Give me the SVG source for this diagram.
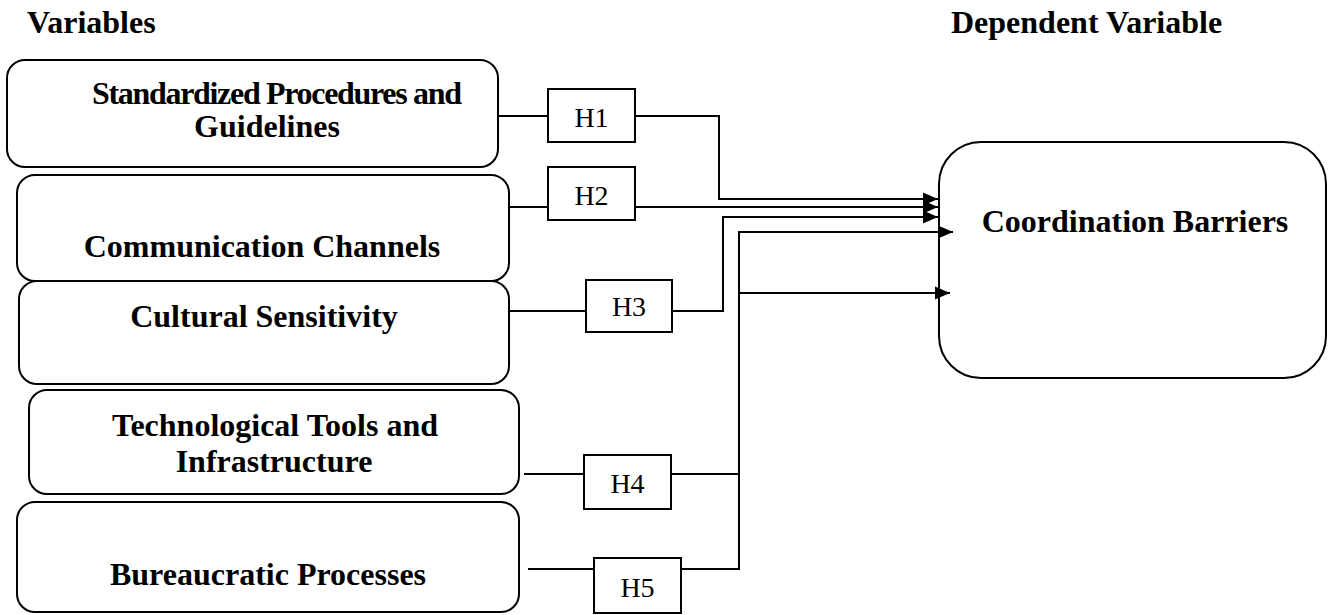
<svg xmlns="http://www.w3.org/2000/svg" width="1328" height="615" viewBox="0 0 1328 615">
<style>
.node{fill:#fff;stroke:#000;stroke-width:2}
.lbl{font-family:"Liberation Serif","Times New Roman",serif;font-weight:bold;font-size:32px;fill:#000;text-anchor:middle}
.hd{font-family:"Liberation Serif","Times New Roman",serif;font-weight:bold;font-size:32px;fill:#000}
.h{font-family:"Liberation Serif","Times New Roman",serif;font-size:28px;fill:#000;text-anchor:middle}
.hb{fill:#fff;stroke:#000;stroke-width:2}
.c{fill:none;stroke:#000;stroke-width:2}
</style>
<defs>
<marker id="arr" markerUnits="userSpaceOnUse" markerWidth="16" markerHeight="14" refX="15" refY="7" orient="auto">
<path d="M0,0.5 L15,7 L0,13.5 z" fill="#000"/>
</marker>
</defs>
<rect width="1328" height="615" fill="#fff"/>
<text class="hd" x="27" y="33">Variables</text>
<text class="hd" x="951" y="33">Dependent Variable</text>

<g id="n1">
<rect class="node" x="7" y="60" width="491" height="107" rx="18"/>
<text class="lbl" x="92" y="104" text-anchor="start" style="text-anchor:start" textLength="370" lengthAdjust="spacing">Standardized Procedures and</text>
<text class="lbl" x="267" y="137">Guidelines</text>
</g>
<g id="n2">
<rect class="node" x="17" y="175" width="492" height="106" rx="18"/>
<text class="lbl" x="262" y="257">Communication Channels</text>
</g>
<g id="n3">
<rect class="node" x="19" y="281" width="490" height="103" rx="18"/>
<text class="lbl" x="264" y="327">Cultural Sensitivity</text>
</g>
<g id="n4">
<rect class="node" x="29" y="390" width="490" height="104" rx="18"/>
<text class="lbl" x="275" y="436">Technological Tools and</text>
<text class="lbl" x="274" y="472">Infrastructure</text>
</g>
<g id="n5">
<rect class="node" x="17" y="502" width="502" height="110" rx="18"/>
<text class="lbl" x="268" y="585">Bureaucratic Processes</text>
</g>
<g id="target">
<rect class="node" x="939" y="142" width="387" height="236" rx="42"/>
<text class="lbl" x="1135" y="232">Coordination Barriers</text>
</g>

<g id="connectors">
<path class="c" d="M498,116 H548"/>
<path class="c" d="M509,207 H548"/>
<path class="c" d="M509,311 H586"/>
<path class="c" d="M524,474 H584"/>
<path class="c" d="M528,569 H594"/>
<path class="c" d="M635,116 H719 V199 H938" marker-end="url(#arr)"/>
<path class="c" d="M635,207 H938" marker-end="url(#arr)"/>
<path class="c" d="M672,311 H723 V217 H938" marker-end="url(#arr)"/>
<path class="c" d="M681,569 H739 V232 H953" marker-end="url(#arr)"/>
<path class="c" d="M671,474 H739"/>
<path class="c" d="M739,293 H950" marker-end="url(#arr)"/>
</g>

<g id="h1"><rect class="hb" x="548" y="89" width="87" height="53"/><text class="h" x="591.5" y="127">H1</text></g>
<g id="h2"><rect class="hb" x="548" y="167" width="87" height="53"/><text class="h" x="591.5" y="205">H2</text></g>
<g id="h3"><rect class="hb" x="586" y="280" width="86" height="52"/><text class="h" x="629" y="316">H3</text></g>
<g id="h4"><rect class="hb" x="584" y="455" width="87" height="54"/><text class="h" x="627.5" y="493">H4</text></g>
<g id="h5"><rect class="hb" x="594" y="558" width="87" height="55"/><text class="h" x="637.5" y="597">H5</text></g>
</svg>
